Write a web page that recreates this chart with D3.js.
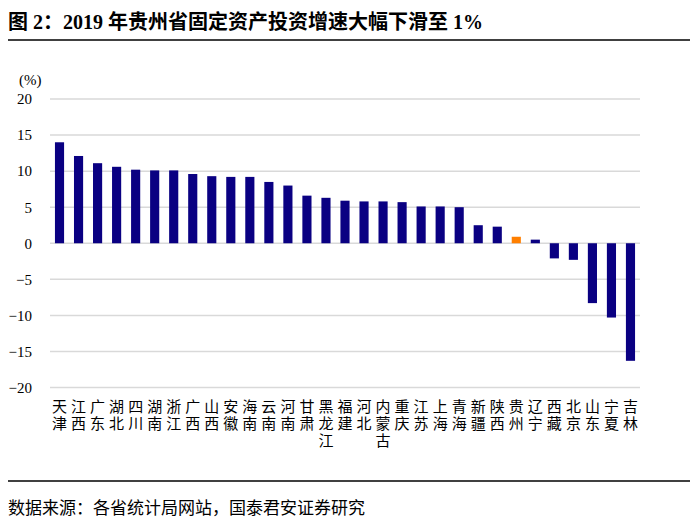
<!DOCTYPE html>
<html><head><meta charset="utf-8">
<script src="https://cdn.jsdelivr.net/npm/d3@7/dist/d3.min.js"></script>
<style>body{margin:0;background:#fff}</style>
</head><body><svg id="c" width="700" height="526"></svg>
<script>
const provinces = ["天津","江西","广东","湖北","四川","湖南","浙江","广西","山西","安徽","海南","云南","河南","甘肃","黑龙江","福建","河北","内蒙古","重庆","江苏","上海","青海","新疆","陕西","贵州","辽宁","西藏","北京","山东","宁夏","吉林"];
const growth = [14.0,12.1,11.1,10.6,10.2,10.1,10.1,9.6,9.3,9.2,9.2,8.5,8.0,6.6,6.3,5.9,5.8,5.8,5.7,5.1,5.1,5.0,2.5,2.3,0.9,0.5,-2.1,-2.3,-8.3,-10.3,-16.3];
const highlight = "贵州";
const yTicks = [20,15,10,5,0,-5,-10,-15,-20];
const titleText = "图 2：2019 年贵州省固定资产投资增速大幅下滑至 1%";
const sourceText = "数据来源：各省统计局网站，国泰君安证券研究";
const unitText = "(%)";

const svg = d3.select("#c");
const serif = "'Liberation Serif','Times New Roman','Noto Sans CJK SC',serif";
const cjk = "'Noto Sans CJK SC','Liberation Serif',serif";

const x = d3.scaleBand().domain(provinces).range([50, 640]).paddingInner(0.52).paddingOuter(0.26);
const y = d3.scaleLinear().domain([-20, 20]).range([387.5, 99]);

// title
svg.append("text").attr("x", 8).attr("y", 29).attr("font-family", serif).attr("font-weight", "bold")
  .attr("font-size", 20).attr("fill", "#000").text(titleText);
svg.append("line").attr("x1", 8).attr("x2", 690).attr("y1", 40).attr("y2", 40).attr("stroke", "#000").attr("stroke-width", 1.5);
svg.append("line").attr("x1", 8).attr("x2", 690).attr("y1", 481).attr("y2", 481).attr("stroke", "#000").attr("stroke-width", 1.5);
svg.append("text").attr("x", 8).attr("y", 514).attr("font-family", cjk).attr("font-size", 17)
  .attr("fill", "#000").text(sourceText);

// grid
svg.append("g").selectAll("line").data(yTicks).join("line")
  .attr("x1", 50).attr("x2", 640).attr("y1", d => y(d)).attr("y2", d => y(d))
  .attr("stroke", "#d9d9d9").attr("stroke-width", 1.5);

// y axis labels
const yAxis = d3.axisLeft(y).tickValues(yTicks).tickSize(0).tickPadding(0);
const ga = svg.append("g").attr("transform", "translate(32,0)").call(yAxis);
ga.select(".domain").remove();
ga.selectAll("text").attr("font-family", serif).attr("font-size", 15).attr("fill", "#000");
svg.append("text").attr("x", 19).attr("y", 85).attr("font-family", serif).attr("font-size", 15).text(unitText);

// bars
svg.append("g").selectAll("rect").data(provinces).join("rect")
  .attr("x", d => x(d))
  .attr("width", x.bandwidth())
  .attr("y", (d, i) => y(Math.max(0, growth[i])))
  .attr("height", (d, i) => Math.abs(y(growth[i]) - y(0)))
  .attr("fill", d => d === highlight ? "#ff7f00" : "#0a0082");

// x labels, vertical stacked characters
const lg = svg.append("g");
provinces.forEach(p => {
  const cx = x(p) + x.bandwidth() / 2;
  Array.from(p).forEach((ch, j) => {
    lg.append("text").attr("x", cx).attr("y", 412 + j * 16.8).attr("text-anchor", "middle")
      .attr("font-family", serif).attr("font-size", 15).attr("fill", "#000").text(ch);
  });
});
</script></body></html>
